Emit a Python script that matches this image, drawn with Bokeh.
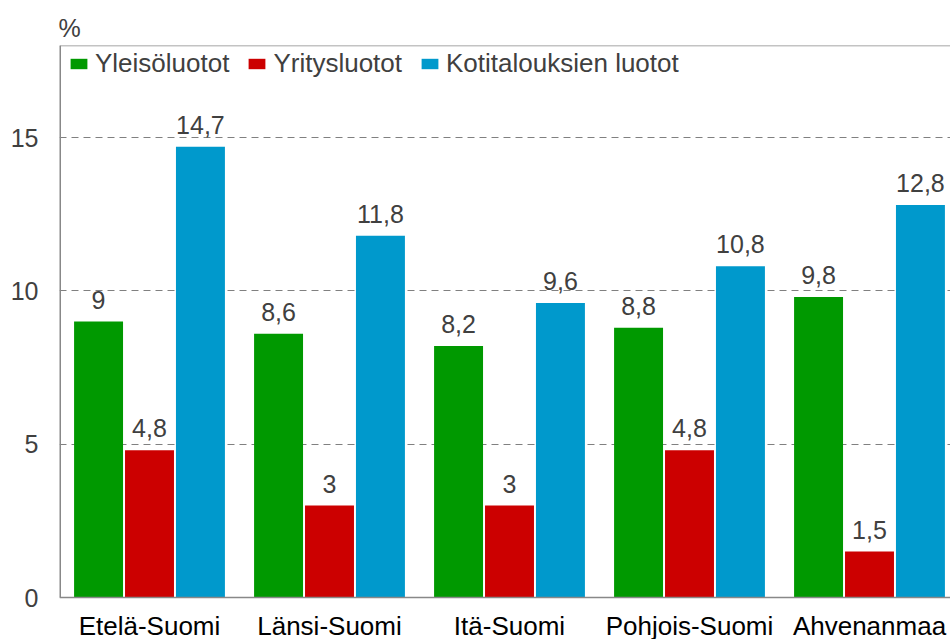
from bokeh.plotting import figure
from bokeh.models import (ColumnDataSource, Range1d, FixedTicker, Span,
                          LabelSet, Legend, LegendItem)
from bokeh.transform import dodge
from bokeh.core.properties import value
from bokeh.embed import file_html
from bokeh.resources import INLINE

regions = ["Etelä-Suomi", "Länsi-Suomi", "Itä-Suomi", "Pohjois-Suomi", "Ahvenanmaa"]
yleis = [9, 8.6, 8.2, 8.8, 9.8]
yritys = [4.8, 3, 3, 4.8, 1.5]
koti = [14.7, 11.8, 9.6, 10.8, 12.8]
series_names = ["Yleisöluotot", "Yritysluotot", "Kotitalouksien luotot"]
colors = ["#009900", "#CC0000", "#0099CC"]
y_ticks = [0, 5, 10, 15]
y_max = 18

FONT = "Liberation Sans"

def fmt(v):
    s = ("%g" % v)
    return s.replace(".", ",")

xs = [i + 0.5 for i in range(len(regions))]

# layout (pixels)
W, H = 950, 639
LEFT, TOP = 59, 45
PLOT_H = 552          # height of the 0..18 value area
GROUP_PX = 180        # width of one category group
frame_w = W - LEFT
frame_h = H - TOP
y_start = -(frame_h - PLOT_H) / PLOT_H * y_max

p = figure(width=W, height=H, output_backend="svg", toolbar_location=None,
           x_range=Range1d(0, frame_w / GROUP_PX), y_range=Range1d(y_start, y_max),
           min_border_left=LEFT, min_border_right=0, min_border_top=TOP,
           min_border_bottom=0)
p.outline_line_color = None
p.background_fill_color = "white"

p.title.text = "%"
p.title.text_font = FONT
p.title.text_font_size = "25px"
p.title.text_font_style = "normal"
p.title.text_color = "#404040"
p.title.align = "left"
p.title.standoff = 8
p.title.offset = -1

p.xaxis.visible = False
p.xgrid.visible = False

p.yaxis.ticker = FixedTicker(ticks=y_ticks)
p.yaxis.major_tick_line_color = None
p.yaxis.minor_tick_line_color = None
p.yaxis.major_tick_out = 0
p.yaxis.axis_line_color = None
p.yaxis.major_label_text_font = FONT
p.yaxis.major_label_text_font_size = "25px"
p.yaxis.major_label_text_color = "#404040"
p.yaxis.major_label_standoff = 21

p.ygrid.ticker = FixedTicker(ticks=[5, 10, 15])
p.ygrid.grid_line_color = "#808080"
p.ygrid.grid_line_dash = "7 5"
p.ygrid.grid_line_width = 1

offsets = [-0.283, 0.0, 0.283]
items = []
for name, vals, col, off in zip(series_names, [yleis, yritys, koti], colors, offsets):
    src = ColumnDataSource(dict(x=xs, top=vals, lab=[fmt(v) for v in vals]))
    r = p.vbar(x=dodge("x", off), top="top", bottom=0, width=0.272, source=src,
               fill_color=col, line_color=None)
    items.append(LegendItem(label=name, renderers=[r]))
    p.add_layout(LabelSet(x=dodge("x", off), y="top", text="lab", source=src,
                          text_align="center", text_baseline="alphabetic", y_offset=13,
                          text_font=value(FONT), text_font_size="25px",
                          text_color="#404040"))

legend = Legend(items=items, orientation="horizontal", location=(9, frame_h - 34),
                glyph_width=21, glyph_height=13, label_standoff=6, spacing=17,
                padding=5, margin=0, border_line_color=None,
                background_fill_alpha=0,
                label_text_font=FONT, label_text_font_size="26px",
                label_text_color="#404040")
p.add_layout(legend, "center")

# frame lines: top, bottom (value 0) and left edge
p.add_layout(Span(location=y_max, dimension="width", line_color="#888888", line_width=1.5))
p.add_layout(Span(location=0, dimension="width", line_color="#888888", line_width=1.5))
p.segment(x0=[0], y0=[0], x1=[0], y1=[y_max], line_color="#888888", line_width=3)

lab_src = ColumnDataSource(dict(x=xs, y=[0] * len(xs), t=regions))
p.add_layout(LabelSet(x="x", y="y", text="t", source=lab_src, text_align="center",
                      text_baseline="alphabetic", y_offset=-37,
                      text_font=value(FONT), text_font_size="26px", text_color="black"))

open("out.html", "w").write(file_html(p, INLINE))
